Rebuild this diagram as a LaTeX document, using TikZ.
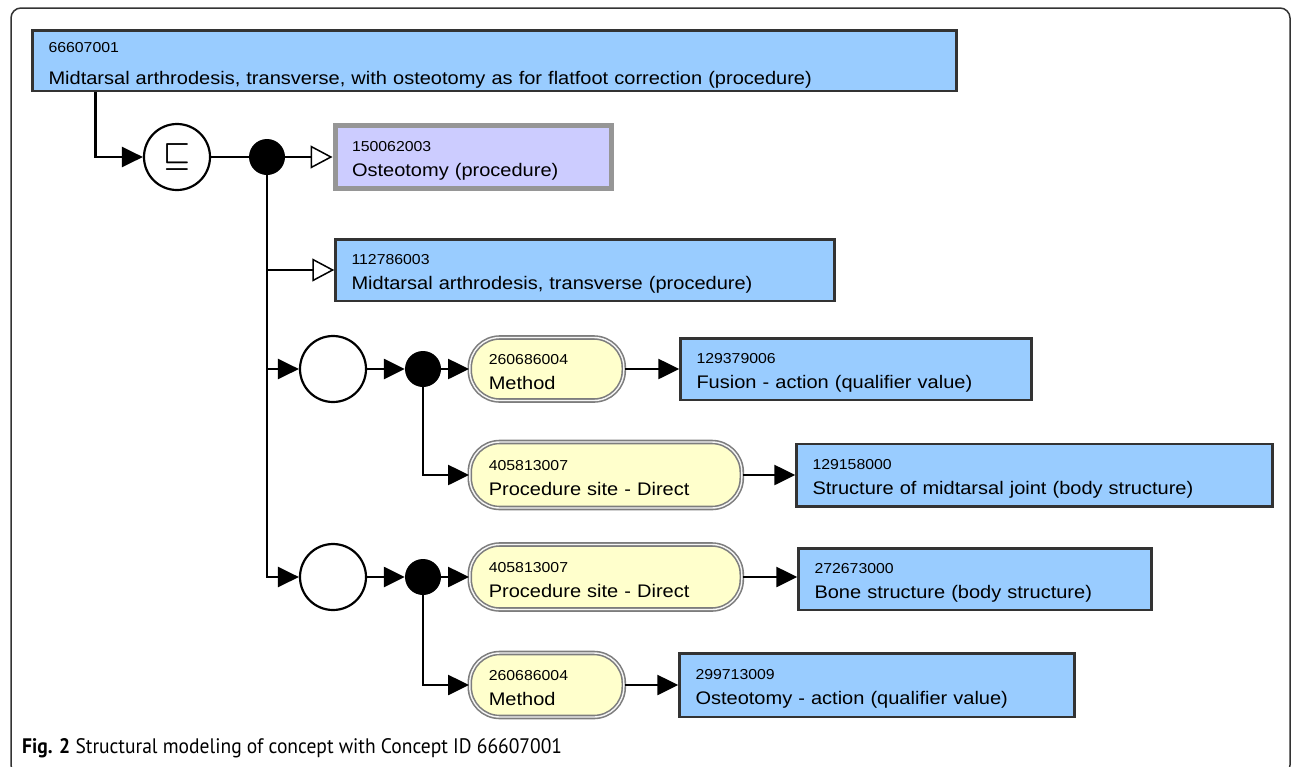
\documentclass[tikz,border=0pt]{standalone}
\usepackage{amsmath, amssymb}
\usepackage{fontspec}
\setmainfont{Liberation Sans}[FakeStretch=1.1]
\newfontfamily\capfamily{PT Sans}[FakeStretch=0.93]
\usetikzlibrary{arrows.meta}

\newcommand\boxfont{\fontsize{18.2}{25}\selectfont}
\newcommand\idfont{\fontsize{14.4}{25}\selectfont}

\tikzset{
  concept/.style={draw={rgb, 255:red, 51; green, 51; blue, 51 }, line width=2.5pt,
    fill={rgb, 255:red, 153; green, 204; blue, 255 }, anchor=west, inner xsep=16, inner ysep=0,
    align=left, font=\boxfont, execute at begin node={\rule{0pt}{17pt}}},
  primitive/.style={concept, draw={rgb, 255:red, 150; green, 150; blue, 150 }, line width=5pt,
    fill={rgb, 255:red, 204; green, 204; blue, 255 }, inner xsep=17},
  attribute/.style={draw={rgb, 255:red, 125; green, 125; blue, 125 }, line width=1.6pt,
    double={rgb, 255:red, 245; green, 245; blue, 245 }, double distance=1.4pt,
    fill={rgb, 255:red, 255; green, 255; blue, 204 }, rounded corners=30pt, anchor=west,
    inner xsep=19, inner ysep=0, align=left, font=\boxfont, execute at begin node={\rule{0pt}{16pt}}},
  group/.style={circle, draw, line width=2.2pt, fill=white, minimum size=66, inner sep=0},
  junction/.style={circle, fill=black, minimum size=36, inner sep=0},
  link/.style={line width=2.6pt, -{Triangle[length=21pt,width=20pt]}},
  isa/.style={line width=2.6pt, -{Triangle[open,length=22pt,width=23pt,line width=1.5pt,fill=white]}},
}

\begin{document}
\begin{tikzpicture}[x=1pt,y=1pt,yscale=-1,xscale=1]
\useasboundingbox (0,0) rectangle (1292,766);

% frame
\draw [line width=1.5pt, color={rgb, 255:red, 51; green, 51; blue, 51 }, rounded corners=10pt] (11,8) rectangle (1290,775);

% defined concept
\node [concept, anchor=north west, text width=892, minimum height=60.5,
  execute at begin node={\rule{0pt}{20pt}}] (top) at (31.25,29.25)
  {{\idfont 66607001}\\[7pt]Midtarsal arthrodesis, transverse, with osteotomy as for flatfoot correction (procedure)};

% definition status and top junction
\node [group] (sub) at (177,157) {\scalebox{3}{\boldmath$\sqsubseteq$}};
\node [junction] (d0) at (267,157) {};

% parents
\node [primitive, text width=242, minimum height=63] (osteo) at (332.5,157)
  {{\idfont 150062003}\\Osteotomy (procedure)};
\node [concept, text width=467, minimum height=61.5] (midtarsal) at (334.25,270)
  {{\idfont 112786003}\\Midtarsal arthrodesis, transverse (procedure)};

% first role group
\node [group] (g1) at (333,369) {};
\node [junction] (d1) at (423,369) {};
\node [attribute, text width=116, minimum height=63] (method1) at (469,369)
  {{\idfont 260686004}\\Method};
\node [concept, text width=319, minimum height=61.5] (fusion) at (679.25,369)
  {{\idfont 129379006}\\Fusion - action (qualifier value)};
\node [attribute, text width=234, minimum height=66] (site1) at (469,475)
  {{\idfont 405813007}\\Procedure site - Direct};
\node [concept, text width=444, minimum height=62.5] (joint) at (795.25,475)
  {{\idfont 129158000}\\Structure of midtarsal joint (body structure)};

% second role group
\node [group] (g2) at (333,577) {};
\node [junction] (d2) at (423,577) {};
\node [attribute, text width=234, minimum height=65] (site2) at (469,577)
  {{\idfont 405813007}\\Procedure site - Direct};
\node [concept, text width=321, minimum height=61.5] (bone) at (797.25,579)
  {{\idfont 272673000}\\Bone structure (body structure)};
\node [attribute, text width=116, minimum height=64] (method2) at (469,685)
  {{\idfont 260686004}\\Method};
\node [concept, text width=363, minimum height=63.5] (osteoact) at (678.25,685)
  {{\idfont 299713009}\\Osteotomy - action (qualifier value)};

% connectors
\draw [link] (top.south west) ++(64,0) |- (sub);
\draw [line width=1.4pt] (sub) -- (d0);
\draw [isa] (d0) -- (osteo);
\draw [isa] (d0 |- midtarsal) -- (midtarsal);
\draw [link] (d0 |- g1) -- (g1);
\draw [link] (d0) |- (g2);

\draw [link] (g1) -- (d1);
\draw [link] (d1) -- (method1);
\draw [link] (method1) -- (fusion);
\draw [link] (d1) |- (site1);
\draw [link] (site1) -- (joint);

\draw [link] (g2) -- (d2);
\draw [link] (d2) -- (site2);
\draw [link] (site2) -- (site2 -| bone.west);
\draw [link] (d2) |- (method2);
\draw [link] (method2) -- (osteoact);

% caption
\node [anchor=base west, inner sep=0, font=\capfamily\fontsize{21}{21}\selectfont] (caption) at (22,753)
  {\textbf{Fig. 2} Structural modeling of concept with Concept ID 66607001};

\end{tikzpicture}
\end{document}
